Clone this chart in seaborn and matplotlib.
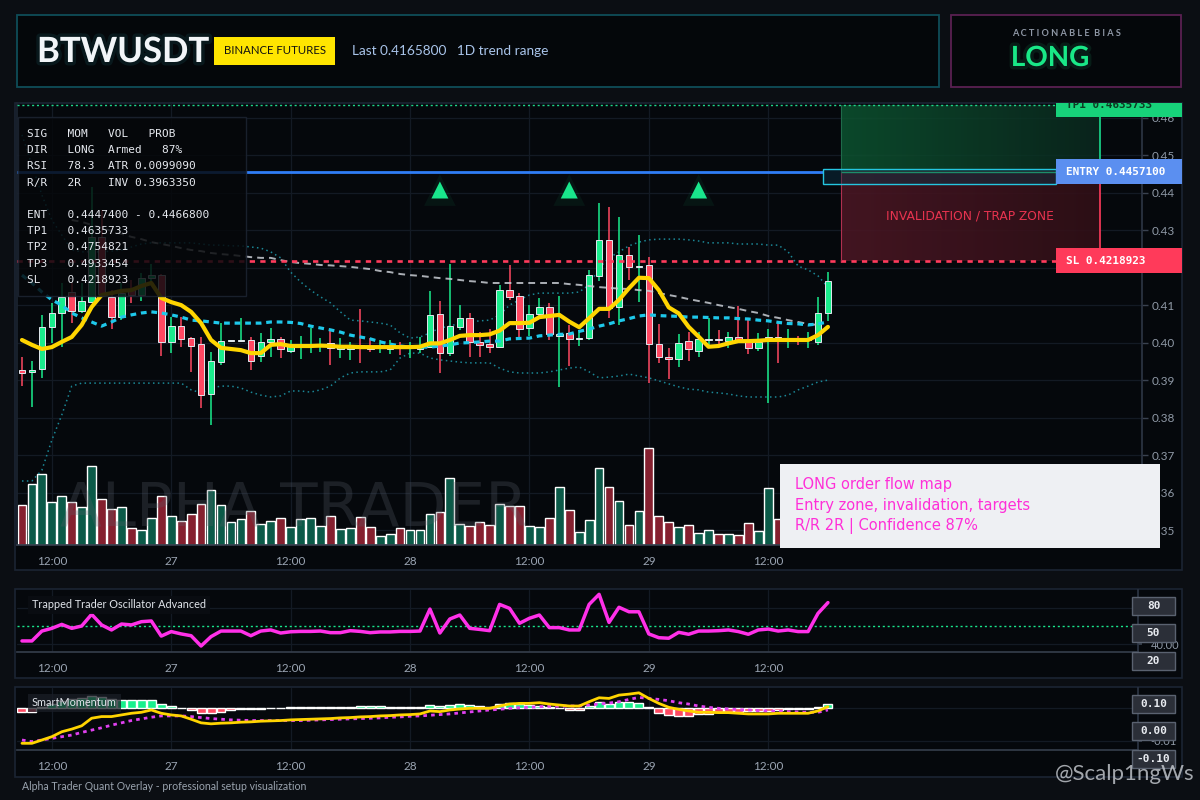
import numpy as np
import pandas as pd
import matplotlib
matplotlib.use("Agg")
import matplotlib.pyplot as plt
import seaborn as sns
import matplotlib.patheffects as pe
from matplotlib.patches import Rectangle
from matplotlib.transforms import Bbox, TransformedBbox, blended_transform_factory

# ---------------------------------------------------------------- data
symbol = "BTWUSDT"
exchange = "BINANCE FUTURES"
last_price = "0.4165800"
bias = "LONG"

opens = [0.3928, 0.3923, 0.3931, 0.4043, 0.4080, 0.4136, 0.4085, 0.4109, 0.4283, 0.4123,
         0.4069, 0.4141, 0.4128, 0.4173, 0.4181, 0.4003, 0.4045, 0.4013, 0.3997, 0.3864,
         0.3949, 0.4005, 0.4005, 0.4008, 0.3965, 0.4003, 0.4011, 0.3979, 0.3989, 0.3995,
         0.3992, 0.4000, 0.3984, 0.3984, 0.3995, 0.3992, 0.3987, 0.3984, 0.3989, 0.3987,
         0.3984, 0.3989, 0.4077, 0.3973, 0.4043, 0.4067, 0.4003, 0.3997, 0.3989, 0.4141,
         0.4125, 0.4040, 0.4077, 0.4096, 0.4019, 0.4027, 0.4011, 0.4013, 0.4179, 0.4275,
         0.4096, 0.4235, 0.4203, 0.4208, 0.3997, 0.3963, 0.3957, 0.4005, 0.3979, 0.4008,
         0.4011, 0.4005, 0.4016, 0.4003, 0.3987, 0.4011, 0.4016, 0.4008, 0.4011, 0.4008,
         0.4003, 0.4080]
highs = [0.3963, 0.3952, 0.4075, 0.4107, 0.4160, 0.4160, 0.4160, 0.4416, 0.4355, 0.4141,
         0.4160, 0.4168, 0.4187, 0.4211, 0.4185, 0.4069, 0.4069, 0.4016, 0.4016, 0.3976,
         0.4053, 0.4008, 0.4067, 0.4016, 0.4027, 0.4040, 0.4016, 0.4008, 0.4019, 0.4040,
         0.4013, 0.4035, 0.4013, 0.4003, 0.4091, 0.4013, 0.4008, 0.4008, 0.4003, 0.4003,
         0.4016, 0.4139, 0.4112, 0.4211, 0.4101, 0.4080, 0.4029, 0.4037, 0.4155, 0.4208,
         0.4133, 0.4101, 0.4120, 0.4107, 0.4125, 0.4048, 0.4035, 0.4195, 0.4373, 0.4363,
         0.4336, 0.4256, 0.4288, 0.4229, 0.4051, 0.3987, 0.4024, 0.4029, 0.4029, 0.4067,
         0.4035, 0.4029, 0.4099, 0.4061, 0.4027, 0.4037, 0.4053, 0.4037, 0.4019, 0.4029,
         0.4123, 0.4189]
lows = [0.3885, 0.3829, 0.3907, 0.4000, 0.3989, 0.4053, 0.4080, 0.4107, 0.4128, 0.4037,
        0.4061, 0.4107, 0.4112, 0.4160, 0.3965, 0.3973, 0.3989, 0.3923, 0.3827, 0.3781,
        0.3941, 0.4003, 0.4003, 0.3928, 0.3949, 0.3963, 0.3960, 0.3973, 0.3957, 0.3973,
        0.3976, 0.3941, 0.3960, 0.3955, 0.3947, 0.3976, 0.3973, 0.3971, 0.3968, 0.3960,
        0.3973, 0.3987, 0.3920, 0.3965, 0.4035, 0.3963, 0.3963, 0.3973, 0.3987, 0.4115,
        0.4008, 0.4019, 0.4067, 0.4008, 0.3883, 0.3939, 0.3992, 0.4008, 0.4165, 0.4067,
        0.4048, 0.4168, 0.4109, 0.3893, 0.3947, 0.3904, 0.3936, 0.3952, 0.3963, 0.3987,
        0.3989, 0.3987, 0.4000, 0.3971, 0.3979, 0.3840, 0.3947, 0.3987, 0.3995, 0.3987,
        0.3995, 0.4059]
closes = [0.3920, 0.3928, 0.4043, 0.4080, 0.4123, 0.4085, 0.4112, 0.4283, 0.4131, 0.4069,
          0.4133, 0.4128, 0.4173, 0.4181, 0.4003, 0.4045, 0.4011, 0.3992, 0.3861, 0.3952,
          0.4005, 0.4006, 0.4008, 0.3952, 0.4003, 0.4011, 0.3984, 0.3992, 0.3997, 0.3997,
          0.3997, 0.3987, 0.3992, 0.3995, 0.3990, 0.3984, 0.3990, 0.3992, 0.3987, 0.3992,
          0.3995, 0.4075, 0.3973, 0.4045, 0.4067, 0.4003, 0.3995, 0.3989, 0.4141, 0.4123,
          0.4037, 0.4077, 0.4096, 0.4024, 0.4024, 0.4011, 0.4013, 0.4181, 0.4275, 0.4093,
          0.4235, 0.4203, 0.4205, 0.3997, 0.3963, 0.3957, 0.4000, 0.3984, 0.4011, 0.4011,
          0.4008, 0.4016, 0.4008, 0.3987, 0.4003, 0.4016, 0.4011, 0.4011, 0.4008, 0.4011,
          0.4080, 0.41658]
volumes = [40, 61, 71, 43, 49, 43, 38, 79, 46, 36,
           38, 17, 15, 27, 49, 29, 24, 31, 41, 55,
           40, 23, 26, 34, 21, 24, 27, 18, 26, 27,
           19, 29, 16, 17, 28, 18, 9, 11, 17, 15,
           15, 31, 33, 67, 21, 19, 23, 20, 41, 39,
           39, 19, 18, 27, 58, 35, 13, 25, 77, 58,
           44, 20, 34, 97, 29, 23, 18, 20, 12, 15,
           11, 11, 10, 22, 14, 57, 26, 18, 14, 12,
           30, 42]

ma_fast = [0.4008, 0.3995, 0.3984, 0.3989, 0.4003, 0.4016, 0.4048, 0.4096, 0.4128, 0.4133,
           0.4139, 0.4141, 0.4152, 0.4160, 0.4120, 0.4109, 0.4101, 0.4083, 0.4053, 0.4008,
           0.3987, 0.3984, 0.3981, 0.3973, 0.3973, 0.3995, 0.3997, 0.3992, 0.3992, 0.3992,
           0.3993, 0.3992, 0.3990, 0.3990, 0.3989, 0.3989, 0.3989, 0.3989, 0.3989, 0.3989,
           0.3990, 0.3999, 0.3999, 0.4008, 0.4019, 0.4021, 0.4021, 0.4023, 0.4033, 0.4053,
           0.4053, 0.4054, 0.4069, 0.4072, 0.4075, 0.4057, 0.4042, 0.4066, 0.4091, 0.4091,
           0.4115, 0.4146, 0.4174, 0.4173, 0.4141, 0.4095, 0.4079, 0.4043, 0.4017, 0.3990,
           0.3992, 0.3999, 0.4005, 0.4005, 0.4006, 0.4008, 0.4008, 0.4008, 0.4008, 0.4008,
           0.4021, 0.4043]
mid_line = [0.4181, 0.4160, 0.4136, 0.4115, 0.4101, 0.4080, 0.4067, 0.4056, 0.4045, 0.4056,
            0.4069, 0.4075, 0.4080, 0.4083, 0.4080, 0.4075, 0.4069, 0.4061, 0.4059, 0.4056,
            0.4053, 0.4053, 0.4053, 0.4053, 0.4053, 0.4056, 0.4056, 0.4055, 0.4052, 0.4045,
            0.4040, 0.4035, 0.4029, 0.4021, 0.4016, 0.4011, 0.4003, 0.3997, 0.3992, 0.3989,
            0.3989, 0.3989, 0.3992, 0.3995, 0.4000, 0.4001, 0.4003, 0.4005, 0.4005, 0.4011,
            0.4012, 0.4013, 0.4019, 0.4021, 0.4023, 0.4024, 0.4031, 0.4037, 0.4045, 0.4051,
            0.4059, 0.4065, 0.4072, 0.4075, 0.4073, 0.4072, 0.4071, 0.4069, 0.4069, 0.4068,
            0.4067, 0.4067, 0.4065, 0.4064, 0.4061, 0.4059, 0.4055, 0.4052, 0.4051, 0.4048,
            0.4051, 0.4056]
bb_upper = [0.4555, 0.4475, 0.4395, 0.4328, 0.4288, 0.4248, 0.4243, 0.4243, 0.4243, 0.4245,
            0.4248, 0.4256, 0.4264, 0.4267, 0.4267, 0.4267, 0.4267, 0.4267, 0.4264, 0.4261,
            0.4261, 0.4259, 0.4259, 0.4256, 0.4253, 0.4243, 0.4227, 0.4189, 0.4163, 0.4141,
            0.4123, 0.4107, 0.4083, 0.4061, 0.4059, 0.4056, 0.4053, 0.4048, 0.4027, 0.4013,
            0.4016, 0.4027, 0.4040, 0.4045, 0.4053, 0.4056, 0.4059, 0.4061, 0.4075, 0.4101,
            0.4115, 0.4128, 0.4133, 0.4133, 0.4133, 0.4133, 0.4136, 0.4155, 0.4200, 0.4227,
            0.4243, 0.4259, 0.4269, 0.4275, 0.4277, 0.4277, 0.4277, 0.4275, 0.4272, 0.4267,
            0.4267, 0.4267, 0.4264, 0.4264, 0.4264, 0.4261, 0.4261, 0.4243, 0.4205, 0.4195,
            0.4179, 0.4149]
bb_lower = [0.3632, 0.3632, 0.3661, 0.3741, 0.3808, 0.3885, 0.3893, 0.3893, 0.3893, 0.3893,
            0.3893, 0.3893, 0.3893, 0.3893, 0.3893, 0.3893, 0.3893, 0.3875, 0.3867, 0.3880,
            0.3885, 0.3885, 0.3880, 0.3869, 0.3861, 0.3856, 0.3859, 0.3872, 0.3872, 0.3869,
            0.3875, 0.3885, 0.3907, 0.3920, 0.3923, 0.3923, 0.3923, 0.3928, 0.3960, 0.3973,
            0.3973, 0.3960, 0.3955, 0.3952, 0.3949, 0.3947, 0.3947, 0.3947, 0.3933, 0.3923,
            0.3920, 0.3920, 0.3920, 0.3923, 0.3928, 0.3933, 0.3936, 0.3923, 0.3907, 0.3909,
            0.3912, 0.3917, 0.3912, 0.3907, 0.3899, 0.3891, 0.3883, 0.3877, 0.3875, 0.3869,
            0.3867, 0.3864, 0.3859, 0.3856, 0.3856, 0.3856, 0.3856, 0.3861, 0.3875, 0.3885,
            0.3896, 0.3901]
nan = float("nan")
slow_ma = [nan, nan, nan, nan, nan, 0.4328, 0.4323, 0.4315, 0.4307, 0.4299,
           0.4291, 0.4283, 0.4277, 0.4269, 0.4264, 0.4259, 0.4253, 0.4248, 0.4245, 0.4240,
           0.4237, 0.4235, 0.4232, 0.4229, 0.4227, 0.4227, 0.4221, 0.4216, 0.4213, 0.4211,
           0.4208, 0.4207, 0.4205, 0.4203, 0.4200, 0.4197, 0.4192, 0.4189, 0.4184, 0.4181,
           0.4179, 0.4176, 0.4173, 0.4171, 0.4168, 0.4165, 0.4163, 0.4160, 0.4160, 0.4160,
           0.4160, 0.4160, 0.4160, 0.4160, 0.4160, 0.4157, 0.4155, 0.4152, 0.4149, 0.4147,
           0.4145, 0.4144, 0.4141, 0.4139, 0.4133, 0.4128, 0.4123, 0.4117, 0.4112, 0.4107,
           0.4101, 0.4096, 0.4091, 0.4085, 0.4080, 0.4072, 0.4067, 0.4061, 0.4056, 0.4051,
           0.4048, nan]

osc_values = [41.7, 41.7, 47.2, 48.7, 50.9, 48.7, 50.0, 56.5, 50.6, 47.8,
              51.1, 50.6, 52.4, 52.8, 44.4, 46.9, 45.6, 44.6, 38.9, 44.1,
              47.2, 47.2, 47.2, 44.6, 47.2, 47.8, 46.1, 46.8, 47.0, 47.0,
              47.2, 46.3, 46.3, 47.4, 47.0, 46.3, 46.7, 46.7, 47.0, 47.0,
              47.2, 59.4, 46.1, 53.9, 56.1, 48.7, 48.1, 47.4, 62.0, 59.8,
              51.5, 54.3, 56.1, 49.1, 49.1, 47.8, 47.8, 62.0, 67.6, 52.0,
              60.4, 57.9, 57.9, 45.6, 43.5, 43.2, 46.5, 45.4, 47.2, 47.2,
              47.4, 47.8, 46.9, 45.4, 47.8, 48.3, 47.2, 47.8, 46.9, 46.9,
              57.0, 63.0]
mom_line = [-0.0107, -0.0107, -0.0097, -0.0087, -0.0072, -0.0064, -0.0054, -0.0031, -0.0026, -0.0026,
            -0.0021, -0.0016, -0.0013, -0.0006, -0.0016, -0.0021, -0.0024, -0.0034, -0.0045, -0.0048,
            -0.0046, -0.0045, -0.0043, -0.0042, -0.0040, -0.0039, -0.0038, -0.0036, -0.0035, -0.0034,
            -0.0033, -0.0032, -0.0030, -0.0029, -0.0027, -0.0026, -0.0024, -0.0023, -0.0021, -0.0020,
            -0.0018, -0.0009, -0.0011, -0.0006, -0.0003, -0.0001, -0.0001, -0.0001, 0.0006, 0.0012,
            0.0014, 0.0014, 0.0016, 0.0012, 0.0009, 0.0006, 0.0006, 0.0019, 0.0031, 0.0029,
            0.0039, 0.0042, 0.0046, 0.0029, 0.0014, 0.0002, -0.0004, -0.0009, -0.0013, -0.0013,
            -0.0014, -0.0014, -0.0016, -0.0018, -0.0018, -0.0018, -0.0016, -0.0016, -0.0016, -0.0016,
            -0.0009, 0.0004]
mom_signal = [-0.0097, -0.0102, -0.0097, -0.0092, -0.0087, -0.0082, -0.0074, -0.0067, -0.0060, -0.0052,
              -0.0045, -0.0038, -0.0033, -0.0028, -0.0024, -0.0024, -0.0024, -0.0026, -0.0029, -0.0032,
              -0.0034, -0.0036, -0.0037, -0.0038, -0.0038, -0.0038, -0.0038, -0.0038, -0.0038, -0.0037,
              -0.0036, -0.0035, -0.0034, -0.0033, -0.0032, -0.0031, -0.0030, -0.0028, -0.0027, -0.0025,
              -0.0024, -0.0022, -0.0020, -0.0018, -0.0015, -0.0012, -0.0009, -0.0006, -0.0004, -0.0001,
              0.0001, 0.0002, 0.0004, 0.0005, 0.0005, 0.0006, 0.0006, 0.0009, 0.0012, 0.0015,
              0.0019, 0.0026, 0.0032, 0.0029, 0.0026, 0.0022, 0.0016, 0.0012, 0.0006, 0.0002,
              -0.0001, -0.0003, -0.0005, -0.0006, -0.0008, -0.0009, -0.0010, -0.0011, -0.0012, -0.0013,
              -0.0013, -0.0006]
mom_hist = [-0.0011, -0.0011, 0.0002, 0.0012, 0.0020, 0.0026, 0.0030, 0.0036, 0.0033, 0.0027,
            0.0024, 0.0024, 0.0024, 0.0024, 0.0012, 0.0006, 0.0001, -0.0006, -0.0016, -0.0016,
            -0.0011, -0.0006, -0.0004, -0.0004, -0.0004, 0.0001, 0.0001, 0.0003, 0.0003, 0.0003,
            0.0003, 0.0003, 0.0003, 0.0003, 0.0007, 0.0007, 0.0007, 0.0003, 0.0003, 0.0003,
            0.0003, 0.0009, 0.0006, 0.0009, 0.0012, 0.0009, 0.0006, 0.0003, 0.0012, 0.0014,
            0.0012, 0.0009, 0.0006, 0.0003, 0.0001, -0.0006, -0.0006, 0.0007, 0.0017, 0.0012,
            0.0019, 0.0019, 0.0016, 0.0002, -0.0014, -0.0021, -0.0023, -0.0023, -0.0018, -0.0018,
            -0.0013, -0.0012, -0.0012, -0.0008, -0.0008, -0.0008, -0.0007, -0.0004, -0.0004, -0.0004,
            0.0003, 0.0012]

signal_idx = [42, 55, 68]
signal_price = [0.4408, 0.4408, 0.4408]

tp1_price = 0.4635733
entry_price = 0.4457100
sl_price = 0.4218923
entry_zone = [0.4425, 0.4465]

x_tick_idx = [3, 15, 27, 39, 51, 63, 75]
x_tick_labels = ["12:00", "27", "12:00", "28", "12:00", "29", "12:00"]
price_ticks = [0.35, 0.36, 0.37, 0.38, 0.39, 0.40, 0.41, 0.42, 0.43, 0.44, 0.45, 0.46]

info_lines = ["SIG   MOM   VOL   PROB",
              "DIR   LONG  Armed   87%",
              "RSI   78.3  ATR 0.0099090",
              "R/R   2R    INV 0.3963350",
              "",
              "ENT   0.4447400 - 0.4466800",
              "TP1   0.4635733",
              "TP2   0.4754821",
              "TP3   0.4933454",
              "SL    0.4218923"]
note_lines = ["LONG order flow map", "Entry zone, invalidation, targets", "R/R 2R | Confidence 87%"]

# ---------------------------------------------------------------- style
BG = "#0b0e13"
PANEL = "#05080c"
GRID = "#131a24"
UP = "#19ec8c"
DN = "#ff4862"
sns.set_theme(style="dark")
sns.set_style("dark", {"axes.facecolor": PANEL, "figure.facecolor": BG,
                       "axes.edgecolor": "#2a3240", "grid.color": GRID})
plt.rcParams["font.family"] = ["Lato", "DejaVu Sans"]
MONO = ["DejaVu Sans Mono"]

W, H = 1200, 800
fig = plt.figure(figsize=(12, 8), dpi=100, facecolor=BG)


def FX(p):
    return p / W


def FY(p):
    return 1 - p / H


def px_rect(x0, y0, x1, y1, **kw):
    r = Rectangle((FX(x0), FY(y1)), (x1 - x0) / W, (y1 - y0) / H,
                  transform=fig.transFigure, **kw)
    fig.add_artist(r)
    return r


df = pd.DataFrame({"i": np.arange(len(closes)), "open": opens, "high": highs,
                   "low": lows, "close": closes, "vol": volumes,
                   "ma": ma_fast, "mid": mid_line, "bbu": bb_upper, "bbl": bb_lower,
                   "slow": slow_ma, "osc": osc_values, "mom": mom_line,
                   "sig": mom_signal, "hist": mom_hist})
up = df["close"] >= df["open"]

# ---------------------------------------------------------------- frames / header
px_rect(15, 103, 1182, 570, facecolor=PANEL, edgecolor="#1b2433", lw=1.2, zorder=-2)
px_rect(15, 589, 1182, 678, facecolor=PANEL, edgecolor="#1b2433", lw=1.2, zorder=-2)
px_rect(15, 687, 1182, 777, facecolor=PANEL, edgecolor="#1b2433", lw=1.2, zorder=-2)
px_rect(17, 15, 939, 87, facecolor="#04070a", edgecolor="#0f4d58", lw=1.3, zorder=-2)
px_rect(951, 15, 1181, 87, facecolor="#04070a", edgecolor="#5a2052", lw=1.3, zorder=-2)

fig.text(FX(37), FY(52), symbol, fontsize=25, fontweight="bold", color="#f2f5f8",
         va="center", ha="left",
         path_effects=[pe.withStroke(linewidth=5, foreground="#0e2e34", alpha=0.45)])
px_rect(214, 37, 335, 65, facecolor="#ffe500", edgecolor="none", zorder=3)
fig.text(FX(274.5), FY(51), exchange, fontsize=8.2, color="#111111", va="center",
         ha="center", zorder=4)
fig.text(FX(352), FY(51), f"Last {last_price}   1D trend range", fontsize=9.8,
         color="#a9c4ea", va="center", ha="left")
fig.text(FX(1066), FY(34), "A C T I O N A B L E  B I A S",
         fontsize=6.6, fontweight="bold", color="#8f98a6", va="center", ha="center")
fig.text(FX(1050), FY(58), bias, fontsize=20, fontweight="bold", color="#19e887",
         va="center", ha="center",
         path_effects=[pe.withStroke(linewidth=5, foreground="#0b3325", alpha=0.5)])

# ---------------------------------------------------------------- main axes
ax = fig.add_axes([FX(17), FY(545), (1142 - 17) / W, (545 - 103) / H])
ax.patch.set_alpha(0)
x_lo, x_hi = -0.5, 112.56
y_lo, y_hi = 0.34613, 0.4640

ax.grid(True, color=GRID, lw=0.9)
ax.set_axisbelow(True)

# volume (bottom overlay, height in axes fraction)
vol_tr = blended_transform_factory(ax.transData, ax.transAxes)
vol_cols = np.where(up, "#0b5a48", "#85202f")
ax.bar(df["i"], df["vol"] / 442.0, width=0.88, bottom=0, color=vol_cols,
       transform=vol_tr, zorder=1)
ax.text(27.3, 0.08, "ALPHA TRADER", transform=vol_tr, fontsize=44, color="#5a606a",
        alpha=0.28, ha="center", va="center", fontfamily="DejaVu Sans", zorder=1.5)

# bands
for col in ["bbu", "bbl"]:
    sns.lineplot(data=df, x="i", y=col, ax=ax, color="#1b8796", lw=1.1, zorder=2,
                 errorbar=None)
    ax.lines[-1].set_linestyle((0, (1, 2.2)))

# candles
wick_cols = np.where(up, UP, DN)
ax.vlines(df["i"], df["low"], df["high"], colors=wick_cols, lw=1.1, zorder=3)
body_lo = np.minimum(df["open"], df["close"])
body_h = np.maximum(np.abs(df["close"] - df["open"]), 0.00035)
ax.bar(df["i"], body_h, bottom=body_lo, width=0.66, color=wick_cols,
       edgecolor="#e2e7ee", linewidth=0.7, zorder=3.2)

# overlay lines
sns.lineplot(data=df, x="i", y="slow", ax=ax, color="#c9cdd4", lw=1.4, alpha=0.85,
             zorder=4, errorbar=None)
ax.lines[-1].set_dashes((3.5, 2.6))
sns.lineplot(data=df, x="i", y="mid", ax=ax, color="#1ec8ea", lw=2.3, zorder=4,
             errorbar=None)
ax.lines[-1].set_dashes((1.8, 1.5))
sns.lineplot(data=df, x="i", y="ma", ax=ax, color="#ffd500", lw=3.0, zorder=5,
             errorbar=None)

# level lines
lvl_end = 103.9
ax.hlines(tp1_price, x_lo, lvl_end, color="#1fd68c", lw=1.0, linestyles=(0, (1.5, 2)),
          zorder=4)
ax.hlines(entry_price, x_lo, 80.5, color="#2f7df6", lw=2.0, zorder=4)
ax.hlines(sl_price, x_lo, lvl_end, color="#ff3b5c", lw=1.9, linestyles=(0, (2, 2)),
          zorder=4)

# zones
zx0, zx1 = 82.3, 108.3
g = np.linspace(0, 1, 256)
green_img = np.zeros((1, 256, 4))
green_img[0, :, 0] = 0.05 - 0.01 * g
green_img[0, :, 1] = 0.33 - 0.17 * g
green_img[0, :, 2] = 0.19 - 0.07 * g
green_img[0, :, 3] = 0.85
red_img = np.zeros((1, 256, 4))
red_img[0, :, 0] = 0.29 - 0.10 * g
red_img[0, :, 1] = 0.09 - 0.03 * g
red_img[0, :, 2] = 0.14 - 0.05 * g
red_img[0, :, 3] = 0.9
ax.imshow(green_img, extent=[zx0, zx1, entry_price, tp1_price], aspect="auto",
          interpolation="bilinear", zorder=2.5)
ax.imshow(red_img, extent=[zx0, zx1, sl_price, entry_price], aspect="auto",
          interpolation="bilinear", zorder=2.5)
ax.vlines(zx0, entry_price, tp1_price, color="#1f6a4a", lw=0.8, zorder=4)
ax.vlines(zx0, sl_price, entry_price, color="#b03050", lw=0.8, zorder=4)
ax.vlines(zx1, entry_price, tp1_price, color="#19d98c", lw=1.2, zorder=4)
ax.vlines(zx1, sl_price, entry_price, color="#ff3b5c", lw=1.2, zorder=4)
ax.hlines(entry_price, zx0, zx1, color="#2bd68a", lw=1.0, zorder=4)
ax.add_patch(Rectangle((80.5, entry_zone[0]), lvl_end - 80.5, entry_zone[1] - entry_zone[0],
                       facecolor="#0d3446", alpha=0.45, edgecolor="none", zorder=4.2))
ax.add_patch(Rectangle((80.5, entry_zone[0]), lvl_end - 80.5, entry_zone[1] - entry_zone[0],
                       facecolor="none", edgecolor="#25c6e0", lw=1.0, zorder=4.3))
ax.text((zx0 + zx1) / 2, (sl_price + entry_price) / 2, "INVALIDATION / TRAP ZONE",
        color="#e8334f", fontsize=8.8, ha="center", va="center", zorder=5,
        fontfamily="DejaVu Sans")

# signal triangles
sns.scatterplot(x=signal_idx, y=signal_price, ax=ax, marker="^", s=520, color="#19e68c",
                alpha=0.06, edgecolor="none", zorder=5, legend=False)
sns.scatterplot(x=signal_idx, y=signal_price, ax=ax, marker="^", s=150, color="#19e68c",
                edgecolor="none", zorder=6, legend=False)

ax.set_xlim(x_lo, x_hi)
ax.set_ylim(y_lo, y_hi)
ax.set_autoscale_on(False)
ax.set_xlabel("")
ax.set_ylabel("")
ax.set_xticks(x_tick_idx)
ax.set_xticklabels(x_tick_labels)
ax.set_yticks(price_ticks)
ax.set_yticklabels([f"{p:.2f}" for p in price_ticks])
ax.yaxis.tick_right()
ax.tick_params(axis="y", colors="#3a4250", length=4, width=1, labelcolor="#8f99a6",
               labelsize=8.5, pad=3, right=True, left=False)
ax.tick_params(axis="x", length=0, labelcolor="#9aa4b2", labelsize=8.5, pad=8)
ax.spines["top"].set_visible(False)
ax.spines["right"].set_color("#2c3443")
ax.spines["bottom"].set_color("#343c4a")
ax.spines["left"].set_color("#1c2430")

# ---------------------------------------------------------------- oscillator
axo = fig.add_axes([FX(17), FY(652), (1138 - 17) / W, 62 / H])
axo.patch.set_alpha(0)
sns.lineplot(data=df, x="i", y="osc", ax=axo, color="#ff30e8", lw=2.5, zorder=4,
             errorbar=None)
axo.axhline(50, color="#19e68c", lw=1.0, ls=(0, (1.5, 2)), zorder=3)
axo.set_xlim(x_lo, (1138 - 22) / 9.95)
axo.set_ylim(35.56, 70.0)
axo.set_yticks([40, 60])
axo.set_yticklabels(["40.00", ""])      # the 60 label sits under the "80" box
axo.set_xticks(x_tick_idx)
axo.set_xticklabels(x_tick_labels)
axo.yaxis.tick_right()
axo.grid(True, color=GRID, lw=0.9)
axo.tick_params(axis="y", length=3, colors="#3a4250", labelcolor="#8f99a6", labelsize=8,
                pad=6)
axo.tick_params(axis="x", length=0, labelcolor="#9aa4b2", labelsize=8.5, pad=8)
axo.set_xlabel("")
axo.set_ylabel("")
axo.spines["top"].set_visible(False)
axo.spines["left"].set_visible(False)
axo.spines["right"].set_color("#2c3443")
axo.spines["bottom"].set_color("#343c4a")

# ---------------------------------------------------------------- momentum
axm = fig.add_axes([FX(17), FY(750), (1138 - 17) / W, 62 / H])
axm.patch.set_alpha(0)
hist_cols = np.where(df["hist"] >= 0, "#19f08c", "#ff4a63")
axm.bar(df["i"], df["hist"], width=0.9, color=hist_cols, zorder=2)
sns.lineplot(data=df, x="i", y="sig", ax=axm, color="#e040f0", lw=2.0, zorder=3,
             errorbar=None)
axm.lines[-1].set_dashes((1.3, 1.5))
sns.lineplot(data=df, x="i", y="mom", ax=axm, color="#ffd400", lw=2.0, zorder=4,
             errorbar=None)
axm.set_xlim(x_lo, (1138 - 22) / 9.95)
axm.set_ylim(-0.01273, 0.00606)
axm.set_yticks([-0.01, 0.0])
axm.set_yticklabels(["-0.01", ""])      # the 0.00 label sits under the "0.10" box
axm.set_xticks(x_tick_idx)
axm.set_xticklabels(x_tick_labels)
axm.yaxis.tick_right()
axm.grid(True, color=GRID, lw=0.9)
axm.tick_params(axis="y", length=3, colors="#3a4250", labelcolor="#8f99a6", labelsize=8,
                pad=6)
axm.tick_params(axis="x", length=0, labelcolor="#9aa4b2", labelsize=8.5, pad=8)
axm.set_xlabel("")
axm.set_ylabel("")
axm.spines["top"].set_visible(False)
axm.spines["left"].set_visible(False)
axm.spines["right"].set_color("#2c3443")
axm.spines["bottom"].set_color("#343c4a")

# ---------------------------------------------------------------- overlays (figure level)
clipbb = TransformedBbox(Bbox([[FX(15), FY(570)], [FX(1182), FY(103)]]), fig.transFigure)
lab_tr = blended_transform_factory(fig.transFigure, ax.transData)
half_h = 12.5 * (y_hi - y_lo) / 442.0
for price, txt, fc, tc in [(tp1_price, f"TP1 {tp1_price:.7f}", "#17d27a", "#0b3d22"),
                           (entry_price, f"ENTRY {entry_price:.7f}", "#5b8ff0", "#ffffff"),
                           (sl_price, f"SL {sl_price:.7f}", "#ff3a5a", "#ffffff")]:
    r = Rectangle((FX(1056), price - half_h), 126 / W, 2 * half_h, transform=lab_tr,
                  facecolor=fc, edgecolor="none", zorder=8)
    fig.add_artist(r)
    r.set_clip_box(clipbb)
    r.set_clip_on(True)
    t = fig.text(FX(1066), price, txt, transform=lab_tr, color=tc, fontsize=7.9,
                 fontweight="bold", family=MONO, va="center", ha="left", zorder=9)
    t.set_clip_box(clipbb)
    t.set_clip_on(True)

# info panel
px_rect(18, 117, 246, 296, facecolor="#05070a", alpha=0.84, edgecolor="#1d2533", lw=1,
        zorder=6)
for k, line in enumerate(info_lines):
    fig.text(FX(27), FY(134 + 16.2 * k), line, family=MONO, fontsize=8, color="#e6e9ef",
             va="center", ha="left", zorder=7)

# note box
px_rect(780, 464, 1160, 548, facecolor="#eef0f3", edgecolor="none", zorder=6)
for k, line in enumerate(note_lines):
    fig.text(FX(795), FY(485 + 20.5 * k), line, fontsize=10.5, color="#ff2fd8",
             fontfamily="DejaVu Sans", va="center", ha="left", zorder=7)

# panel titles
fig.text(FX(32), FY(605), "Trapped Trader Oscillator Advanced", fontsize=7.8,
         color="#e0e4ea", va="center", ha="left", zorder=7,
         bbox=dict(boxstyle="square,pad=0.35", facecolor="#0a0d12", edgecolor="none",
                   alpha=0.9))
fig.text(FX(32), FY(703), "SmartMomentum", fontsize=7.8, color="#e0e4ea", va="center",
         ha="left", zorder=7,
         bbox=dict(boxstyle="square,pad=0.35", facecolor="#1a1e26", edgecolor="none",
                   alpha=0.75))

# right value boxes
for (ytop, txt) in [(597, "80"), (624, "50"), (652, "20"),
                    (695, "0.10"), (722, "0.00"), (750, "-0.10")]:
    px_rect(1132, ytop, 1175, ytop + 18, facecolor="#2b2f38", edgecolor="#5a6270",
            lw=1, zorder=6)
    fig.text(FX(1153.5), FY(ytop + 9), txt, family=MONO, fontsize=8, fontweight="bold",
             color="#e8ebf0", va="center", ha="center", zorder=7)

# footer
fig.text(FX(22), FY(787), "Alpha Trader Quant Overlay - professional setup visualization",
         fontsize=7.6, color="#9aa3ae", va="center", ha="left")
fig.text(FX(1195), FY(774), "@Scalp1ngWs", fontsize=16, color="#c9cdd3", alpha=0.8,
         va="center", ha="right", zorder=9)

fig.savefig("out.png", dpi=100, facecolor=BG)
